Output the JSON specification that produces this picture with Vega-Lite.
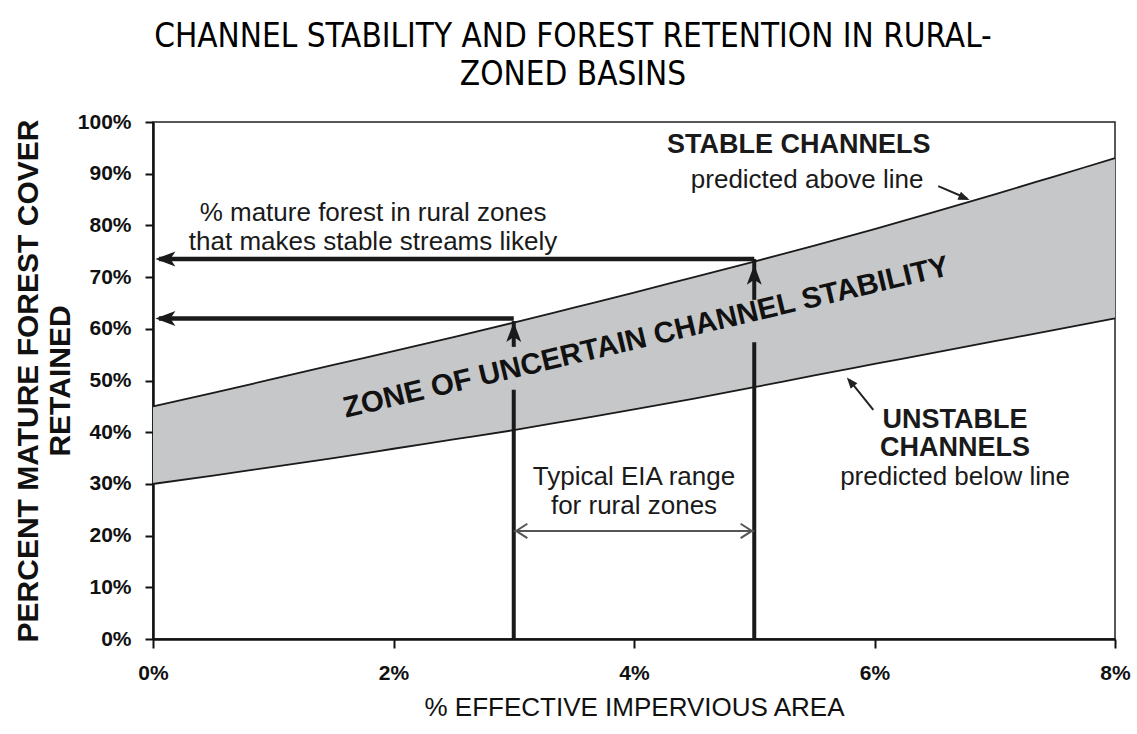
{
  "$schema": "https://vega.github.io/schema/vega-lite/v6.json",
  "width": 962,
  "height": 517,
  "autosize": {"type": "none"},
  "padding": {"left": 153, "top": 122, "right": 22, "bottom": 95},
  "background": "white",
  "title": {
    "text": ["CHANNEL STABILITY AND FOREST RETENTION IN RURAL-", "ZONED BASINS"],
    "anchor": "middle",
    "dx": -61,
    "font": "Liberation Sans Narrow, DejaVu Sans Condensed, Liberation Sans",
    "fontSize": 33,
    "fontWeight": "normal",
    "lineHeight": 38,
    "color": "#000",
    "offset": 19
  },
  "config": {
    "font": "Liberation Sans",
    "view": {"stroke": "#222", "strokeWidth": 1.5}
  },
  "datasets": {
    "band": [
      {"eia": 0, "upper": 45, "lower": 30},
      {"eia": 0.5, "upper": 47.6, "lower": 31.6},
      {"eia": 1, "upper": 50.3, "lower": 33.3},
      {"eia": 1.5, "upper": 53, "lower": 35},
      {"eia": 2, "upper": 55.7, "lower": 36.8},
      {"eia": 2.5, "upper": 58.4, "lower": 38.6},
      {"eia": 3, "upper": 61.2, "lower": 40.4},
      {"eia": 3.5, "upper": 64.1, "lower": 42.4},
      {"eia": 4, "upper": 67, "lower": 44.4},
      {"eia": 4.5, "upper": 70, "lower": 46.5},
      {"eia": 5, "upper": 73, "lower": 48.7},
      {"eia": 5.5, "upper": 76.1, "lower": 51},
      {"eia": 6, "upper": 79.3, "lower": 53.2},
      {"eia": 6.5, "upper": 82.6, "lower": 55.4},
      {"eia": 7, "upper": 86, "lower": 57.6},
      {"eia": 7.5, "upper": 89.5, "lower": 59.8},
      {"eia": 8, "upper": 93, "lower": 62}
    ],
    "vsegs": [
      {"eia": 3, "from": 0, "to": 48.2},
      {"eia": 3, "from": 56.5, "to": 61.5},
      {"eia": 5, "from": 0, "to": 57.4},
      {"eia": 5, "from": 65.6, "to": 73.5}
    ],
    "hsegs": [
      {"from": 0.05, "to": 3, "forest": 62},
      {"from": 0.05, "to": 5, "forest": 73.5}
    ],
    "upheads": [
      {"eia": 3, "forest": 61.3},
      {"eia": 5, "forest": 72.4}
    ],
    "leftheads": [
      {"eia": 0.02, "forest": 62},
      {"eia": 0.02, "forest": 73.5}
    ],
    "range": [
      {"from": 3, "to": 5, "forest": 20.9}
    ],
    "rangeleft": [{"eia": 3.02, "forest": 20.9}],
    "rangeright": [{"eia": 4.98, "forest": 20.9}],
    "pointers": [
      {"x1": 6.53, "y1": 87.6, "x2": 6.77, "y2": 85.2},
      {"x1": 5.99, "y1": 44.3, "x2": 5.79, "y2": 50.1}
    ],
    "stablehead": [{"eia": 6.79, "forest": 84.9}],
    "unstablehead": [{"eia": 5.77, "forest": 50.6}],
    "zone": [{"eia": 4.1, "forest": 58.3, "label": "ZONE OF UNCERTAIN CHANNEL STABILITY"}],
    "notes": [
      {"eia": 1.83, "forest": 82.4, "label": "% mature forest in rural zones\nthat makes stable streams likely"},
      {"eia": 4.0, "forest": 31.3, "label": "Typical EIA range\nfor rural zones"},
      {"eia": 5.44, "forest": 88.8, "label": "predicted above line"},
      {"eia": 6.67, "forest": 31.3, "label": "predicted below line"}
    ],
    "heads": [
      {"eia": 5.37, "forest": 95.6, "label": "STABLE CHANNELS"},
      {"eia": 6.67, "forest": 42.4, "label": "UNSTABLE"},
      {"eia": 6.67, "forest": 36.9, "label": "CHANNELS"}
    ]
  },
  "layer": [
    {
      "data": {"name": "band"},
      "mark": {"type": "area", "color": "#c6c7c8", "interpolate": "monotone"},
      "encoding": {
        "x": {
          "field": "eia", "type": "quantitative",
          "scale": {"domain": [0, 8], "nice": false, "zero": false},
          "axis": {
            "title": "% EFFECTIVE IMPERVIOUS AREA",
            "values": [0, 2, 4, 6, 8],
            "labelExpr": "datum.value + '%'",
            "grid": false,
            "domainColor": "#111", "domainWidth": 2.5,
            "tickColor": "#111", "tickWidth": 2, "tickSize": 9,
            "labelFont": "Liberation Sans", "labelFontWeight": "bold", "labelFontSize": 21,
            "labelColor": "#111", "labelPadding": 14, "labelFlush": false,
            "titleFont": "Liberation Sans", "titleFontWeight": "normal", "titleFontSize": 26,
            "titleColor": "#111", "titlePadding": 11
          }
        },
        "y": {
          "field": "upper", "type": "quantitative",
          "scale": {"domain": [0, 100], "nice": false},
          "axis": {
            "title": ["PERCENT MATURE FOREST COVER", "RETAINED"],
            "values": [0, 10, 20, 30, 40, 50, 60, 70, 80, 90, 100],
            "labelExpr": "datum.value + '%'",
            "grid": false,
            "domainColor": "#111", "domainWidth": 2.5,
            "tickColor": "#111", "tickWidth": 2, "tickSize": 8,
            "labelFont": "Liberation Sans", "labelFontWeight": "bold", "labelFontSize": 21,
            "labelColor": "#111", "labelPadding": 14,
            "titleFont": "Liberation Sans", "titleFontWeight": "bold", "titleFontSize": 30,
            "titleColor": "#111", "titlePadding": 2, "titleLineHeight": 32
          }
        },
        "y2": {"field": "lower"}
      }
    },
    {
      "data": {"name": "band"},
      "mark": {"type": "line", "color": "#1a1a1a", "strokeWidth": 1.8, "interpolate": "monotone"},
      "encoding": {
        "x": {"field": "eia", "type": "quantitative"},
        "y": {"field": "upper", "type": "quantitative"}
      }
    },
    {
      "data": {"name": "band"},
      "mark": {"type": "line", "color": "#1a1a1a", "strokeWidth": 1.8, "interpolate": "monotone"},
      "encoding": {
        "x": {"field": "eia", "type": "quantitative"},
        "y": {"field": "lower", "type": "quantitative"}
      }
    },
    {
      "data": {"name": "vsegs"},
      "mark": {"type": "rule", "color": "#1a1a1a", "strokeWidth": 4},
      "encoding": {
        "x": {"field": "eia", "type": "quantitative"},
        "y": {"field": "from", "type": "quantitative"},
        "y2": {"field": "to"}
      }
    },
    {
      "data": {"name": "hsegs"},
      "mark": {"type": "rule", "color": "#1a1a1a", "strokeWidth": 4.5},
      "encoding": {
        "x": {"field": "from", "type": "quantitative"},
        "x2": {"field": "to"},
        "y": {"field": "forest", "type": "quantitative"}
      }
    },
    {
      "data": {"name": "upheads"},
      "mark": {"type": "point", "shape": "M0,0 L0.75,2 L0.15,1.6 L0,1.75 L-0.15,1.6 L-0.75,2 Z", "size": 400, "filled": true, "color": "#1a1a1a", "opacity": 1, "angle": 0},
      "encoding": {
        "x": {"field": "eia", "type": "quantitative"},
        "y": {"field": "forest", "type": "quantitative"}
      }
    },
    {
      "data": {"name": "leftheads"},
      "mark": {"type": "point", "shape": "M0,0 L0.75,2 L0.15,1.6 L0,1.75 L-0.15,1.6 L-0.75,2 Z", "size": 400, "filled": true, "color": "#1a1a1a", "opacity": 1, "angle": 270},
      "encoding": {
        "x": {"field": "eia", "type": "quantitative"},
        "y": {"field": "forest", "type": "quantitative"}
      }
    },
    {
      "data": {"name": "range"},
      "mark": {"type": "rule", "color": "#555", "strokeWidth": 2},
      "encoding": {
        "x": {"field": "from", "type": "quantitative"},
        "x2": {"field": "to"},
        "y": {"field": "forest", "type": "quantitative"}
      }
    },
    {
      "data": {"name": "rangeleft"},
      "mark": {"type": "point", "shape": "M-0.9,1.4 L0,0 L0.9,1.4", "size": 256, "filled": false, "color": "#555", "strokeWidth": 2, "opacity": 1, "angle": 270},
      "encoding": {
        "x": {"field": "eia", "type": "quantitative"},
        "y": {"field": "forest", "type": "quantitative"}
      }
    },
    {
      "data": {"name": "rangeright"},
      "mark": {"type": "point", "shape": "M-0.9,1.4 L0,0 L0.9,1.4", "size": 256, "filled": false, "color": "#555", "strokeWidth": 2, "opacity": 1, "angle": 90},
      "encoding": {
        "x": {"field": "eia", "type": "quantitative"},
        "y": {"field": "forest", "type": "quantitative"}
      }
    },
    {
      "data": {"name": "pointers"},
      "mark": {"type": "rule", "color": "#222", "strokeWidth": 2},
      "encoding": {
        "x": {"field": "x1", "type": "quantitative"},
        "x2": {"field": "x2"},
        "y": {"field": "y1", "type": "quantitative"},
        "y2": {"field": "y2"}
      }
    },
    {
      "data": {"name": "stablehead"},
      "mark": {"type": "point", "shape": "M0,0 L0.55,1.4 L-0.55,1.4 Z", "size": 256, "filled": true, "color": "#222", "opacity": 1, "angle": 113},
      "encoding": {
        "x": {"field": "eia", "type": "quantitative"},
        "y": {"field": "forest", "type": "quantitative"}
      }
    },
    {
      "data": {"name": "unstablehead"},
      "mark": {"type": "point", "shape": "M0,0 L0.55,1.4 L-0.55,1.4 Z", "size": 256, "filled": true, "color": "#222", "opacity": 1, "angle": -40},
      "encoding": {
        "x": {"field": "eia", "type": "quantitative"},
        "y": {"field": "forest", "type": "quantitative"}
      }
    },
    {
      "data": {"name": "zone"},
      "mark": {"type": "text", "font": "Liberation Sans", "fontWeight": "bold", "fontSize": 29.5, "angle": -13.3, "align": "center", "baseline": "middle", "color": "#111"},
      "encoding": {
        "x": {"field": "eia", "type": "quantitative"},
        "y": {"field": "forest", "type": "quantitative"},
        "text": {"field": "label"}
      }
    },
    {
      "data": {"name": "notes"},
      "mark": {"type": "text", "font": "Liberation Sans", "fontWeight": "normal", "fontSize": 26, "lineBreak": "\n", "lineHeight": 29, "align": "center", "baseline": "middle", "color": "#1a1a1a"},
      "encoding": {
        "x": {"field": "eia", "type": "quantitative"},
        "y": {"field": "forest", "type": "quantitative"},
        "text": {"field": "label"}
      }
    },
    {
      "data": {"name": "heads"},
      "mark": {"type": "text", "font": "Liberation Sans", "fontWeight": "bold", "fontSize": 27, "align": "center", "baseline": "middle", "color": "#1a1a1a"},
      "encoding": {
        "x": {"field": "eia", "type": "quantitative"},
        "y": {"field": "forest", "type": "quantitative"},
        "text": {"field": "label"}
      }
    }
  ]
}
